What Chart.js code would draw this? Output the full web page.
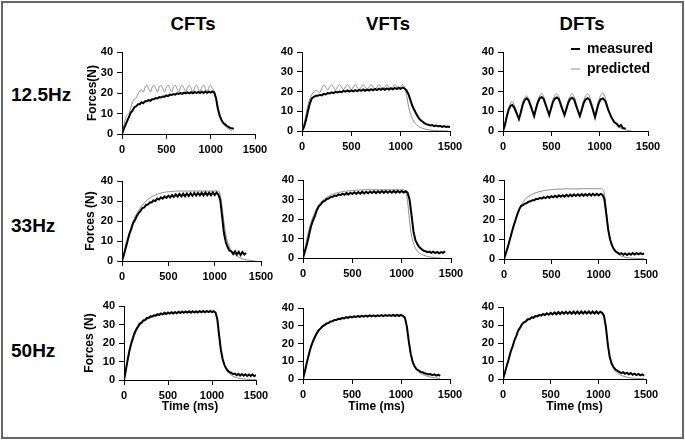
<!DOCTYPE html>
<html><head><meta charset="utf-8">
<script src="https://cdn.jsdelivr.net/npm/chart.js@4.4.0/dist/chart.umd.min.js"></script>
<style>
body{margin:0;background:#fff;width:685px;height:440px;overflow:hidden;position:relative;font-family:"Liberation Sans",Arial,sans-serif;}
#frame{position:absolute;left:1px;top:1px;width:679px;height:434px;border:2px solid #666;}
.h{position:absolute;font-weight:bold;line-height:1;white-space:nowrap;color:#000}
.col{transform:translate(-50%,-50%);font-size:18.5px}
.row{transform:translateY(-50%);font-size:19px}
canvas{position:absolute}
</style></head><body>
<div id="frame"></div>
<script>
// ---------- DATA ----------
const colTitles = ['CFTs','VFTs','DFTs'];
const rowTitles = ['12.5Hz','33Hz','50Hz'];
const seriesNames = ['measured','predicted'];
const xTicks = [0,500,1000,1500];
const yTicks = [0,10,20,30,40];
const yTitles = ['Forces(N)','Forces (N)','Forces (N)'];
const xTitle = 'Time (ms)';

// time (ms) sample points
const T20 = [0,20,40,60,80,100,120,140,160,180,
200,220,240,260,280,300,320,340,360,380,
400,420,440,460,480,500,520,540,560,580,
600,620,640,660,680,700,720,740,760,780,
800,820,840,860,880,900,920,940,960,980,
1000,1020,1040,1060,1080,1100,1120,1140,1160,1180,
1200,1220,1240,1260,1280,1300,1320,1340,1360,1380,
1400,1420,1440,1460,1480,1500];
const tDFT12 = [0,20,40,60,80,95,115,140,165,
185,205,225,245,265,295,322,
340,360,380,400,420,450,478,
495,515,535,557,577,607,636,
655,675,695,715,735,765,795,
815,835,855,875,895,925,952,
970,990,1010,1035,1060,1090,1120,1150,
1180,1200,1220,1240,1270,1300,1330];

// 12.5 Hz
const cft12Measured = [0,2.5,4.5,6.5,8.5,10.5,11.5,13,13.5,14.5,
14.5,15.5,15,16,16,16.5,16.2,17,17,17.5,
17.3,18,17.8,18.3,18.2,18.8,18.5,19.2,19,19.5,
19.2,19.8,19.5,20,19.6,20.2,19.8,20.3,19.8,20.4,
19.9,20.5,20,20.5,20,20.6,20,20.7,20.1,20.7,
20.2,20.8,20.3,17.5,12.5,9,7,5.5,4.8,4,
3.5,3,2.8,2.5];
const cft12Predicted = [0,4,7.5,9.5,10.2,13,15.5,17,17.5,19.5,
21,21.5,20.5,22.8,23.8,22.2,20.5,22.8,23.8,22.2,
20.5,22.8,23.8,22.2,20.5,22.8,23.8,22.2,20.5,22.8,
23.8,22.2,20.5,22.8,23.8,22.2,20.5,22.8,23.8,22.2,
20.5,22.8,23.8,22.2,20.5,22.8,23.8,22.2,20.5,22.8,
23.8,22.2,21,18,14,10.5,7.5,5.5,4.2,3.2,
2.5,2,1.5];
const vft12Measured = [0,2,5.5,10,14,16.5,17.3,17.8,17.8,18.3,
18,18.8,18.5,19.2,19,19.6,19.2,19.8,19.5,20,
19.7,20.3,19.9,20.5,20,20.6,20.1,20.7,20.2,20.8,
20.3,21,20.4,21,20.5,21.2,20.6,21.3,20.7,21.4,
20.8,21.5,20.9,21.6,21,21.7,21.1,21.8,21.2,21.9,
21.3,22,21.5,20.5,18.5,15.5,12.5,10.5,8.5,6.8,
5.5,4.8,4,3.5,3.2,2.8,3,2.5,2.8,2.3,
2.6,2.1,2.5,2,2.3,1.8];
const vft12Predicted = [0,3.5,8.5,13,16.5,18.5,19.8,20.5,20,19.5,
21.5,23.3,22.2,20.8,22.3,23.5,22.2,20.8,22.3,23.5,
22.2,20.8,22.3,23.5,22.2,20.8,22.3,23.5,22.2,20.8,
22.3,23.5,22.2,20.8,22.3,23.5,22.2,20.8,22.3,23.5,
22.2,20.8,22.3,23.5,22.2,20.8,22.3,23.5,22.2,20.8,
22.3,23.5,22,18,12.5,8.5,6,4.3,3.2,2.4,
1.8,1.4,1.1,0.8,0.6,0.5,0.4,0.3,0.2,0.2,
0.1,0.1,0,0,0];
const dft12Measured = [0,3,7.5,11,12.8,13.2,12,9,6,
9.5,13.5,15.8,16.5,15.5,11.5,7.5,
11,14.5,16.5,17.2,16.3,12,8,
11,14.5,16.3,17,16.2,12,8,
11,14.3,16.2,16.8,16,11.5,7.5,
10.8,14.2,16,16.6,15.8,11.5,7,
10.5,14,16,16.5,15,10.5,7,4.5,
3.5,2.2,3,1.5,1.2];
const dft12Predicted = [0,4,8.5,12,14.2,14.8,13.2,10,6.8,
10.5,14.5,16.8,17.8,16.5,12.5,8.8,
12,15.5,17.8,18.8,17.5,13,9,
12,15.5,17.8,18.8,17.5,13,9,
12,15.5,17.8,18.9,17.5,13,8.8,
12,15.5,17.8,19,17.5,13,8.5,
12,15.5,18,19.3,16.5,11.5,7.5,4.8,
3,2.1,1.5,1,0.5,0.2,0];

// 33 Hz
const cft33Measured = [0,3,6.5,10,13.5,16,19,20.5,22.5,24,
25,26.5,26.8,28,28.2,29.3,29.3,30.3,30,31.2,
30.7,31.8,31.2,32.3,31.6,32.7,31.8,33,32,33.3,
32.2,33.5,32.3,33.6,32.4,33.8,32.5,33.9,32.6,34,
32.7,34,32.8,34.1,32.8,34.2,32.9,34.2,32.9,34.3,
33,34.2,33.2,30.5,22.5,14,9.5,7,5.2,4.8,
3.5,4.8,3.2,4.6,3,4.5,3.2,4];
const cft33Predicted = [0,4,8,11.5,14.5,17.3,19.8,22,23.8,25.4,
26.8,28,29,30,30.8,31.5,32.1,32.6,33,33.4,
33.7,34,34.2,34.4,34.5,34.6,34.7,34.8,34.9,34.9,
35,35,35,35,35,35,35,35,35,35,
35,35,35,35,35,35,35,35,35,35,
35,35,35,33,27,19.5,13.5,9.5,7,5.3,
4.1,3.2,2.5,1.9,1.5,1.1,0.8,0.6,0.4,0.3,
0.2,0.1,0];
const vft33Measured = [0,3.5,7,11.5,16,19,21.5,24.5,26.5,27.5,
28.8,29.3,30.3,30.5,31.3,31.4,32,31.8,32.6,32.2,
33,32.4,33.3,32.6,33.5,32.8,33.7,32.9,33.8,33,
34,33.1,34,33.2,34.1,33.3,34.2,33.3,34.2,33.4,
34.3,33.4,34.3,33.5,34.3,33.5,34.4,33.5,34.4,33.6,
34.4,33.6,34.2,33.5,30,22,13.5,9,7,5.5,
4.6,3.8,3.5,3,3.3,2.6,3.2,2.5,3.1,2.4,
3,2.6,3.5];
const vft33Predicted = [0,5,10,14.5,18,21,23.5,25.5,27.2,28.5,
29.5,30.4,31.1,31.7,32.2,32.6,33,33.3,33.6,33.8,
34,34.2,34.3,34.4,34.5,34.6,34.7,34.8,34.8,34.9,
34.9,35,35,35,35,35,35,35,35,35,
35,35,35,35,35,35,35,35,35,35,
35,35,34,29,19,11.5,7.5,5,3.5,2.6,
1.9,1.5,1.1,0.8,0.6,0.4,0.3,0.2,0.1,0.1,
0];
const dft33Measured = [0,3,6,9.5,13,16.5,19.5,22.5,25,26.8,
27.3,28,28.3,29,29.2,29.8,29.8,30.5,30.3,31,
30.6,31.3,30.8,31.6,31,31.8,31.2,32,31.3,32.2,
31.5,32.3,31.6,32.5,31.7,32.6,31.8,32.7,31.9,32.8,
32,32.9,32,32.9,32.1,33,32.1,33,32.2,33,
32.2,33,32.5,30.5,23,15,10,7,5,3.8,
3.2,2.5,3,2.2,2.8,2,2.8,2.2,3,2.3,
3,2.4,3,2.5,2.8];
const dft33Predicted = [0,3,6.5,10,13.5,17,20,23,25.3,27.3,
28.8,30,31,31.7,32.3,32.8,33.2,33.6,33.9,34.2,
34.4,34.6,34.8,34.9,35,35.1,35.2,35.3,35.3,35.4,
35.4,35.5,35.5,35.5,35.5,35.5,35.5,35.5,35.5,35.5,
35.6,35.6,35.6,35.6,35.6,35.6,35.6,35.6,35.6,35.6,
35.6,35.6,35.3,33,25,16.5,10.5,7,5,3.6,
2.7,2,1.5,1.1,0.9,0.7,0.6,0.5,0.4,0.4,
0.3,0.3,0.3,0.2,0.2];

// 50 Hz
const cft50Measured = [0,5,10.5,15.5,19.5,22.5,25.5,27.5,29,30.5,
31,32.2,32.5,33.5,33.6,34.4,34.3,35,34.8,35.6,
35.2,36,35.5,36.3,35.7,36.5,35.9,36.6,36,36.8,
36.1,36.9,36.2,37,36.3,37,36.4,37.1,36.4,37.2,
36.5,37.2,36.5,37.3,36.6,37.3,36.6,37.3,36.7,37.3,
36.7,37.2,36.5,33,24.5,16.5,11.5,8.3,6.3,5,
4.2,3.8,3.2,3.5,2.6,3.3,2.4,3.2,2.3,3.1,
2.2,3,2.2,3,2.1,2.6];
const cft50Predicted = [0,5,10,14.5,18.5,21.5,24.2,26.3,28,29.4,
30.5,31.4,32.1,32.7,33.2,33.6,34,34.3,34.6,34.8,
35,35.2,35.4,35.5,35.7,35.8,35.9,36,36.1,36.2,
36.2,36.3,36.4,36.4,36.5,36.5,36.6,36.6,36.6,36.7,
36.7,36.7,36.7,36.8,36.8,36.8,36.8,36.8,36.8,36.8,
36.8,36.8,36.5,33,25,17,11.5,8,5.8,4.3,
3.3,2.6,2,1.6,1.3,1,0.8,0.7,0.6,0.5,
0.4,0.4,0.3,0.3,0.3,0.3];
const vft50Measured = [0,4.5,9.5,14,18,21,23.5,25.8,27.5,28.5,
29.8,30.3,31.3,31.5,32.4,32.5,33.2,33.2,33.9,33.7,
34.4,34.1,34.8,34.4,35.1,34.7,35.3,34.9,35.5,35,
35.6,35.1,35.7,35.2,35.8,35.3,35.9,35.3,35.9,35.4,
36,35.4,36,35.5,36,35.5,36.1,35.5,36.1,35.5,
36.1,35.5,34.5,29.5,21,14,9.5,7,5.5,4.8,
4,3.8,3.2,3,2.6,2.8,2.2,2.6,1.9,2.4,
1.8];
const vft50Predicted = [0,4.5,9,13.5,17.5,20.5,23,25,26.7,28,
29.2,30.1,30.9,31.6,32.2,32.7,33.1,33.5,33.8,34.1,
34.3,34.5,34.7,34.8,34.9,35,35.1,35.2,35.3,35.4,
35.4,35.5,35.5,35.6,35.6,35.7,35.7,35.7,35.7,35.8,
35.8,35.8,35.8,35.8,35.8,35.8,35.8,35.8,35.8,35.8,
35.8,35.8,34.5,29.5,20.5,13.5,9,6.5,5,4,
3.2,2.6,2.1,1.7,1.4,1.1,0.9,0.7,0.5,0.4,
0.3];
const dft50Measured = [0,3.5,7.5,11,15,18,21.5,24,27,28.5,
30.5,31.5,32,33.2,33.2,34.3,34,35,34.8,35.6,
35.2,36.1,35.5,36.5,35.7,36.8,35.9,37,36,37.2,
36.1,37.3,36.2,37.4,36.2,37.4,36.3,37.5,36.3,37.5,
36.3,37.5,36.4,37.5,36.4,37.5,36.4,37.5,36.4,37.5,
36.4,37.4,36.8,35,28.5,19,12,8.5,6.5,5.3,
4.5,4,3.3,3.8,2.9,3.5,2.6,3.3,2.4,3,
2.2,2.8,2,2.6,1.8];
const dft50Predicted = [0,3.5,7.5,11.5,15,18.5,21.5,24.5,27,29,
30.5,31.6,32.5,33.2,33.8,34.3,34.7,35,35.3,35.5,
35.7,35.9,36,36.1,36.2,36.3,36.4,36.4,36.5,36.5,
36.6,36.6,36.6,36.7,36.7,36.7,36.7,36.7,36.8,36.8,
36.8,36.8,36.8,36.8,36.8,36.8,36.8,36.8,36.8,36.8,
36.8,36.8,36.8,35.5,29,19,12,8,5.7,4.2,
3.2,2.5,2,1.6,1.3,1,0.8,0.6,0.5,0.4,
0.3,0.3,0.2,0.2,0.2];

// ---------- LAYOUT (page pixel positions of each plot area) ----------
const panels = [
 {row:0,col:0,l:122,r:255,t:52,b:134,yw:41,xh:24,t_:T20,m:cft12Measured,p:cft12Predicted},
 {row:0,col:1,l:302,r:450,t:52,b:131,yw:30,xh:24,t_:T20,m:vft12Measured,p:vft12Predicted},
 {row:0,col:2,l:503,r:648,t:52,b:131,yw:30,xh:24,t_:tDFT12,m:dft12Measured,p:dft12Predicted,legend:{x:565,y:36}},
 {row:1,col:0,l:122,r:261,t:181,b:261,yw:43,xh:24,t_:T20,m:cft33Measured,p:cft33Predicted},
 {row:1,col:1,l:303,r:451,t:180,b:258,yw:30,xh:24,t_:T20,m:vft33Measured,p:vft33Predicted},
 {row:1,col:2,l:504,r:646,t:180,b:259,yw:30,xh:24,t_:T20,m:dft33Measured,p:dft33Predicted},
 {row:2,col:0,l:124,r:256,t:306,b:380,yw:46,xh:38,t_:T20,m:cft50Measured,p:cft50Predicted},
 {row:2,col:1,l:303,r:450,t:308,b:379,yw:30,xh:39,t_:T20,m:vft50Measured,p:vft50Predicted},
 {row:2,col:2,l:503,r:646,t:307,b:379,yw:30,xh:39,t_:T20,m:dft50Measured,p:dft50Predicted}
];
const colTitlePos = [[193,24],[388,24],[582,24]];
const rowTitlePos = [[11,94],[11,225],[11,350]];

// ---------- headers ----------
colTitles.forEach((t,i)=>{const d=document.createElement('div');d.className='h col';d.textContent=t;
 d.style.left=colTitlePos[i][0]+'px';d.style.top=colTitlePos[i][1]+'px';document.body.appendChild(d);});
rowTitles.forEach((t,i)=>{const d=document.createElement('div');d.className='h row';d.textContent=t;
 d.style.left=rowTitlePos[i][0]+'px';d.style.top=rowTitlePos[i][1]+'px';document.body.appendChild(d);});

Chart.defaults.font.family = '"Liberation Sans", Arial, sans-serif';
Chart.defaults.color = '#000';

const zip = (ts, vs) => vs.map((v,i)=>({x:ts[i], y:v}));
const PAD_TOP = 20, PAD_RIGHT = 20;

panels.forEach(p=>{
  const W = (p.r - p.l) + p.yw + PAD_RIGHT;
  const H = (p.b - p.t) + PAD_TOP + p.xh;
  const cl = p.l - p.yw, ct = p.t - PAD_TOP;
  const c = document.createElement('canvas');
  c.width = W; c.height = H;
  c.style.left = cl+'px'; c.style.top = ct+'px';
  c.style.width = W+'px'; c.style.height = H+'px';
  document.body.appendChild(c);
  const tickFont = {size:11, weight:'bold'};
  const gridOpts = {display:true, drawOnChartArea:false, drawTicks:true, tickLength:5, color:'#000', lineWidth:1};
  const mover = {id:'legendMover', afterLayout(chart){
    const lg = chart.legend; if(!lg || !p.legend) return;
    const w = lg.width, h = lg.height;
    lg.left = p.legend.x - cl; lg.top = p.legend.y - ct;
    lg.right = lg.left + w; lg.bottom = lg.top + h;
  }};
  new Chart(c, {
    type:'line',
    data:{datasets:[
      {label:seriesNames[0], data:zip(p.t_, p.m), borderColor:'#000', backgroundColor:'#000', borderWidth:2, pointRadius:0, tension:0, fill:false},
      {label:seriesNames[1], data:zip(p.t_, p.p), borderColor:'#8c8c8c', backgroundColor:'#8c8c8c', borderWidth:1, pointRadius:0, cubicInterpolationMode:'monotone', fill:false}
    ]},
    options:{
      responsive:false, animation:false, devicePixelRatio:1, events:[],
      layout:{padding:{left:0, top:PAD_TOP, right:PAD_RIGHT, bottom:0}},
      scales:{
        x:{type:'linear', min:0, max:1500,
           afterBuildTicks:s=>{s.ticks = xTicks.map(v=>({value:v}));},
           afterFit:s=>{s.height = p.xh;},
           ticks:{color:'#000', font:tickFont, padding:4, maxRotation:0, autoSkip:false, callback:v=>String(v)},
           grid:gridOpts, border:{display:true, color:'#000', width:1},
           title:{display:p.row===2, text:xTitle, color:'#000', font:{size:12, weight:'bold'}, padding:{top:0,bottom:4}}},
        y:{type:'linear', min:0, max:40,
           afterBuildTicks:s=>{s.ticks = yTicks.map(v=>({value:v}));},
           afterFit:s=>{s.width = p.yw;},
           ticks:{color:'#000', font:tickFont, padding:4, callback:v=>String(v)},
           grid:gridOpts, border:{display:true, color:'#000', width:1},
           title:{display:p.col===0, text:yTitles[p.row], color:'#000', font:{size:12, weight:'bold'}, padding:{top:4,bottom:0}}}
      },
      plugins:{
        tooltip:{enabled:false},
        legend:{display:!!p.legend, position:'chartArea', align:'start',
          labels:{usePointStyle:true, pointStyle:'line', pointStyleWidth:9, padding:6, color:'#000', font:{size:14, weight:'bold'}}}
      }
    },
    plugins:[mover]
  });
});
</script>
</body></html>
